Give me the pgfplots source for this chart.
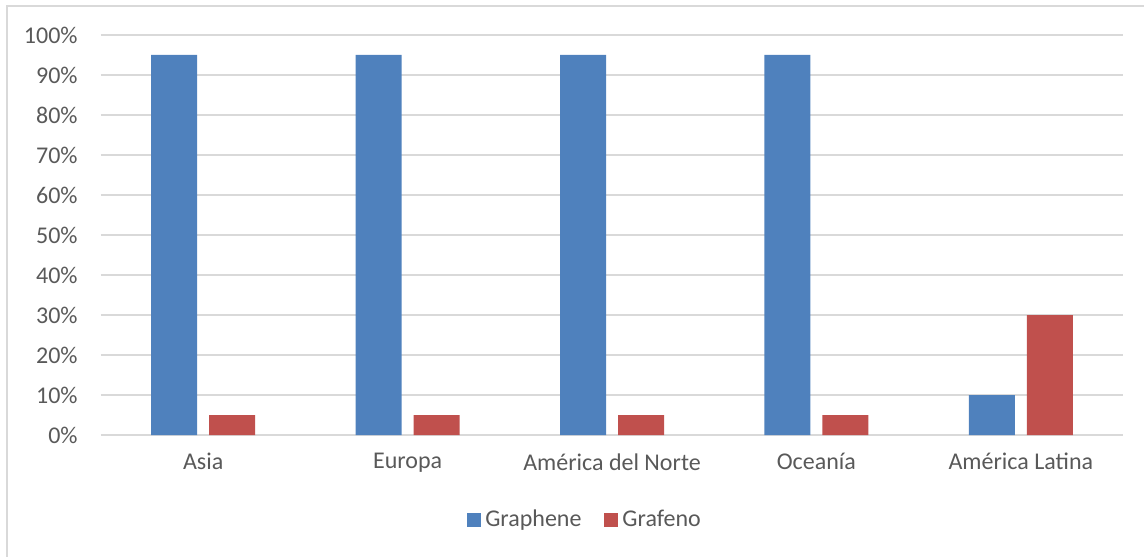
\documentclass[border=0pt]{standalone}
\usepackage{pgfplots}
\pgfplotsset{compat=1.18}
\usepackage{fontspec}
\setmainfont{Carlito}
\definecolor{gblue}{HTML}{4F81BD}
\definecolor{gred}{HTML}{C0504D}
\definecolor{gridgray}{HTML}{D9D9D9}
\definecolor{txtgray}{HTML}{595959}
\definecolor{framegray}{HTML}{D9D9D9}
\begin{document}
\begin{tikzpicture}
\begin{axis}[
  at={(0pt,0pt)}, anchor=south west,
  scale only axis,
  width=511pt, height=200pt,
  xmin=-0.5, xmax=4.5,
  ymin=0, ymax=100,
  ytick={0,10,...,100},
  yticklabel={\pgfmathprintnumber{\tick}\%},
  xtick=data,
  xticklabels={Asia,Europa,América del Norte,Oceanía,América Latina},
  ymajorgrids,
  major grid style={gridgray, line width=1pt},
  axis line style={draw=none},
  major tick length=0pt,
  tick label style={font=\fontsize{12}{14}\selectfont, text=txtgray},
  /pgf/number format/assume math mode=true,
  yticklabel style={inner sep=0pt, anchor=east},
  xticklabel style={inner sep=0pt, anchor=north},
  yticklabel shift=11.5pt,
  xticklabel shift=9pt,
  ybar, bar width=23pt,
  legend style={at={(0.4746,-0.2125)}, anchor=center, draw=none,
    legend columns=2, font=\fontsize{12}{14}\selectfont, text=txtgray,
    /tikz/every even column/.append style={column sep=9.5pt}},
  legend image code/.code={\fill[#1] (-2.5pt,-3.5pt) rectangle (4.5pt,3.5pt);},
]
\addplot[fill=gblue, draw=none, bar shift=-14.5pt] coordinates {(0,95) (1,95) (2,95) (3,95) (4,10)};
\addplot[fill=gred, draw=none, bar shift=14.5pt] coordinates {(0,5) (1,5) (2,5) (3,5) (4,30)};
\legend{Graphene, Grafeno}
\end{axis}
\draw[framegray, line width=1pt] (521.5pt,214.5pt) -- (-47pt,214.5pt) -- (-47pt,-61pt);
\pgfresetboundingbox
\useasboundingbox (-50.5pt,-61pt) rectangle (521.5pt,217.5pt);
\end{tikzpicture}
\end{document}
